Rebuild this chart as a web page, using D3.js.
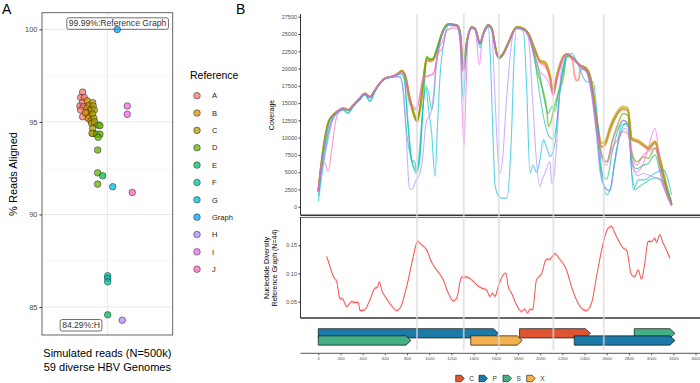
<!DOCTYPE html>
<html>
<head>
<meta charset="utf-8">
<title></title>
<script src="https://d3js.org/d3.v7.min.js"></script>
<style>
  body { margin: 0; background: #fff; }
  svg text { font-family: "Liberation Sans", Arial, sans-serif; }
</style>
</head>
<body>
<div id="chart"></div>
<script>
// ---- panel A data ----
const references = ["A", "B", "C", "D", "E", "F", "G", "Graph", "H", "I", "J"];
const refColors = ["#F8766D", "#DB8E00", "#AEA200", "#64B200", "#00BD5C", "#00C1A7", "#00BADE", "#00A6FF", "#B385FF", "#EF67EB", "#FF63B6"];

// reference of each simulated genome, its jitter (in band units) and % reads aligned
const pointRef = ["A","A","A","A","A","A","A","A",
  "B","B","B","B","B","B","B","B","B",
  "C","C","C","C","C","C","C","C","C","C","C",
  "D","D","D","D","D","D","D","D",
  "E","E","F","F","F","G","Graph","H","I","I","J"];
const pointJitter = [-0.227,-0.245,-0.212,-0.230,-0.252,-0.221,-0.245,-0.227,
  -0.185,-0.167,-0.185,-0.160,-0.185,-0.167,-0.176,-0.200,-0.150,
  -0.135,-0.130,-0.144,-0.120,-0.135,-0.123,-0.144,-0.135,-0.130,-0.141,-0.118,
  -0.084,-0.068,-0.098,-0.068,-0.084,-0.089,-0.089,-0.089,
  -0.043,0.003,0.003,0.003,0.003,0.049,0.091,0.137,0.183,0.183,0.229];
const pointValue = [96.61,96.32,96.32,96.04,95.86,95.82,95.64,95.28,
  96.14,95.91,95.73,95.64,95.46,95.32,95.19,95.50,95.05,
  96.04,95.86,95.64,95.64,95.42,95.19,94.92,94.65,94.38,94.38,95.00,
  94.83,94.80,94.34,94.34,94.17,93.48,92.25,91.64,
  92.09,84.58,86.69,86.55,86.36,91.50,99.99,84.29,95.86,95.41,91.19];
const yTicksA = [85, 90, 95, 100];
const yMinorA = [87.5, 92.5, 97.5];

// ---- panel B coverage data (position, coverage) per genotype ----
const covA = [[0,2200],[45,8100],[90,12000],[135,13300],[180,13900],[225,14250],[270,14000],[315,14700],[370,15600],[421,16400],[466,15900],[511,16900],[556,17900],[601,18600],[676,18900],[721,19300],[752,19600],[781,19000],[826,15400],[871,12900],[890,12300],[917,14000],[946,17800],[977,21200],[1007,21000],[1037,21300],[1067,22600],[1127,25500],[1172,26400],[1248,26300],[1277,25300],[1307,19800],[1337,23600],[1383,26000],[1413,25800],[1458,23600],[1488,25100],[1532,26300],[1563,25800],[1608,22100],[1630,21500],[1668,22100],[1713,23700],[1788,26000],[1848,25800],[1893,25100],[1953,22700],[1998,21000],[2043,20600],[2088,18600],[2118,16500],[2149,18600],[2194,21200],[2239,22100],[2290,21300],[2310,19000],[2325,18300],[2345,18300],[2362,19900],[2419,19900],[2464,17800],[2509,12500],[2554,8700],[2584,9000],[2629,11000],[2674,12800],[2749,14100],[2790,13900],[2825,9800],[2885,9300],[2930,8800],[2975,8300],[3035,9200],[3080,6600],[3140,2700],[3185,200]];
const covB = [[0,2200],[45,8200],[90,12100],[135,13300],[180,13900],[225,14250],[270,14000],[315,14700],[370,15600],[421,16400],[466,15900],[511,16900],[556,17900],[601,18600],[676,18900],[721,19300],[752,19700],[781,19100],[826,15500],[871,13000],[890,12300],[917,14000],[946,17900],[977,21300],[1007,21100],[1037,21300],[1067,22700],[1127,25600],[1172,26450],[1248,26300],[1277,25300],[1307,20000],[1337,23700],[1383,26000],[1413,25800],[1458,23700],[1488,25100],[1532,26300],[1563,25800],[1608,22200],[1630,21600],[1668,22200],[1713,23700],[1788,26000],[1848,25800],[1893,25100],[1953,22700],[1998,21000],[2043,20800],[2088,18800],[2118,16300],[2149,18800],[2194,21200],[2239,22100],[2299,21500],[2359,20500],[2419,20000],[2464,17900],[2509,12600],[2554,8600],[2584,8900],[2629,11100],[2674,12800],[2749,14200],[2790,14000],[2825,9700],[2885,9400],[2930,8900],[2975,8400],[3035,9400],[3080,6800],[3140,2900],[3185,300]];
const covC = [[0,2400],[45,8600],[90,12300],[135,13300],[180,13900],[225,14250],[270,14000],[315,14700],[370,15600],[421,16400],[466,15900],[511,16900],[556,17900],[601,18600],[676,18900],[721,19300],[752,19700],[781,19200],[826,15700],[871,13200],[890,12600],[917,14300],[946,18200],[977,21600],[1007,21300],[1037,21400],[1067,22700],[1127,25600],[1172,26450],[1248,26300],[1277,25300],[1307,20200],[1337,23700],[1383,26000],[1413,25800],[1458,23800],[1488,25100],[1532,26300],[1563,25800],[1608,22300],[1630,21700],[1668,22300],[1713,23800],[1788,26000],[1848,25800],[1893,25100],[1953,22800],[1998,21200],[2043,21000],[2088,19200],[2118,16800],[2149,19000],[2194,21300],[2239,22100],[2299,21500],[2359,20500],[2419,20000],[2464,18000],[2509,12800],[2554,9200],[2584,9400],[2629,11600],[2674,13200],[2749,14500],[2790,14300],[2825,10000],[2885,9600],[2930,9100],[2975,8600],[3035,9500],[3080,7000],[3140,3000],[3185,300]];
const covD = [[0,2300],[45,8400],[90,12200],[135,13300],[180,13900],[225,14250],[270,14000],[315,14700],[370,15600],[421,16400],[466,15900],[511,16900],[556,17900],[601,18600],[676,18900],[721,19300],[752,19600],[781,19000],[826,15300],[871,12800],[890,12400],[917,14500],[946,18500],[977,21800],[1007,21400],[1037,21500],[1067,22700],[1127,25600],[1172,26400],[1248,26300],[1277,25300],[1307,20000],[1337,23700],[1383,26000],[1413,25800],[1458,23700],[1488,25100],[1532,26300],[1563,25800],[1608,22200],[1630,21600],[1668,22200],[1713,23700],[1788,26000],[1848,25800],[1893,25000],[1940,22500],[1968,20000],[2013,17500],[2059,14000],[2073,11600],[2100,12500],[2118,13800],[2163,16400],[2208,18600],[2239,21800],[2299,21400],[2359,20400],[2419,19800],[2464,17500],[2509,12000],[2554,7500],[2600,6500],[2650,9500],[2700,12000],[2749,13500],[2790,13200],[2825,8000],[2870,6500],[2930,7200],[2975,7000],[3035,8500],[3080,6000],[3140,2500],[3185,300]];
const covE = [[0,2200],[45,8000],[90,11800],[135,13200],[180,13900],[225,14200],[270,13900],[315,14600],[370,15500],[421,16300],[466,15700],[511,16800],[556,17800],[601,18500],[676,18800],[721,19200],[752,19400],[781,18300],[800,13500],[842,6800],[871,6400],[887,5300],[917,8200],[946,15000],[977,21500],[1007,21300],[1037,21400],[1067,22600],[1127,25500],[1172,26400],[1248,26200],[1277,25200],[1307,19800],[1337,23600],[1383,25900],[1413,25700],[1458,23600],[1488,25000],[1532,26200],[1563,25700],[1608,22100],[1630,21500],[1668,22100],[1713,23600],[1788,25900],[1848,25700],[1893,25000],[1953,22000],[1998,19000],[2043,15000],[2073,13500],[2104,14500],[2134,13800],[2163,16500],[2208,19500],[2239,22000],[2299,21400],[2359,20400],[2419,19700],[2464,17000],[2509,11000],[2554,5000],[2600,4000],[2650,8000],[2700,11000],[2749,12500],[2790,12000],[2825,6500],[2870,5500],[2930,6000],[2975,6300],[3035,7500],[3080,5000],[3140,1800],[3185,200]];
const covF = [[0,1500],[45,7000],[90,11000],[135,12900],[180,13700],[225,14000],[265,13600],[315,14500],[370,15400],[421,16200],[466,15300],[511,16700],[556,17800],[601,18500],[676,18800],[721,19100],[752,19200],[781,17500],[810,12000],[842,6800],[871,5500],[890,5000],[917,7000],[946,15000],[971,17500],[1000,16000],[1022,14000],[1040,15500],[1067,21500],[1127,25300],[1172,26300],[1248,26200],[1277,25100],[1307,19500],[1337,23500],[1383,25800],[1413,25600],[1458,23500],[1488,24900],[1532,26100],[1563,25600],[1608,22000],[1630,21400],[1668,22000],[1713,23500],[1788,25800],[1848,25600],[1893,24800],[1953,21000],[1998,16000],[2043,12000],[2088,10000],[2118,9800],[2149,12000],[2194,19000],[2239,22000],[2299,21300],[2359,20300],[2419,19500],[2464,16500],[2509,11000],[2554,4000],[2599,2500],[2629,2400],[2670,6500],[2720,10500],[2764,12000],[2795,11500],[2825,5000],[2860,2500],[2900,3000],[2950,3500],[3000,4000],[3050,4200],[3110,3500],[3185,800]];
const covG = [[0,750],[45,6000],[90,10500],[135,12800],[225,14000],[265,13500],[315,14500],[421,16200],[466,15200],[511,16700],[601,18500],[676,18800],[736,18800],[765,17000],[797,10640],[842,6540],[881,4860],[900,6000],[930,12000],[971,17150],[992,14260],[1022,10640],[1052,4370],[1075,12000],[1097,18830],[1142,24600],[1172,26300],[1248,26200],[1277,24000],[1307,15460],[1337,23000],[1383,25800],[1413,25600],[1458,23000],[1488,24800],[1532,26000],[1550,22000],[1575,10000],[1593,3170],[1625,1500],[1653,1240],[1698,1240],[1728,5810],[1745,12000],[1758,18830],[1788,25800],[1848,25500],[1878,17380],[1908,4860],[1935,6000],[1968,5000],[2000,7000],[2028,9670],[2060,8500],[2088,7260],[2134,9200],[2165,15000],[2193,18830],[2254,21960],[2284,22210],[2330,21000],[2419,18100],[2479,18100],[2509,14010],[2554,5340],[2599,1720],[2629,2440],[2689,8230],[2734,11840],[2794,12090],[2839,2440],[2884,3890],[2945,3890],[3000,4500],[3050,5000],[3110,5340],[3185,1720]];
const covH = [[0,2500],[45,6500],[90,9800],[135,12800],[225,14200],[270,14000],[315,14700],[421,16400],[466,15900],[511,16900],[601,18600],[676,18900],[736,18800],[765,16500],[797,9000],[815,3500],[826,2500],[850,2600],[880,3800],[917,4860],[940,7000],[970,12000],[1022,14010],[1060,20000],[1097,23500],[1127,25500],[1172,26400],[1248,26300],[1277,25300],[1307,20000],[1337,23700],[1383,26000],[1413,25800],[1458,23700],[1488,25100],[1532,26300],[1563,25500],[1595,15000],[1623,6300],[1638,4860],[1668,8230],[1690,14000],[1713,18830],[1750,24500],[1788,25900],[1848,25700],[1893,24500],[1930,16000],[1960,8000],[1998,2920],[2020,4000],[2043,4860],[2088,6540],[2104,3410],[2125,4500],[2160,12000],[2194,20500],[2239,22100],[2299,21500],[2359,20500],[2419,19500],[2464,16000],[2509,10000],[2540,5000],[2569,3410],[2629,2200],[2665,5500],[2704,9200],[2764,11370],[2795,10640],[2839,5340],[2884,4500],[2930,4800],[2975,4600],[3035,4200],[3080,3890],[3140,1720],[3185,680]];
const covI = [[0,2300],[45,8000],[90,11800],[135,13200],[225,14200],[270,14000],[315,14700],[421,16400],[466,15900],[511,16900],[601,18600],[676,18900],[721,19300],[752,19500],[781,18800],[820,15000],[857,14260],[887,14000],[917,16000],[946,18500],[1007,19070],[1040,19500],[1082,22690],[1120,24000],[1157,25580],[1248,25800],[1277,24500],[1295,15000],[1313,8700],[1330,16000],[1350,24500],[1383,25800],[1413,25600],[1452,20520],[1480,24500],[1532,26200],[1563,25600],[1608,22000],[1638,21500],[1668,22000],[1713,23600],[1788,25900],[1848,25700],[1893,24800],[1953,21500],[1968,21000],[2000,19500],[2043,18900],[2088,17500],[2118,16000],[2149,18000],[2194,21000],[2239,22000],[2299,21300],[2359,20300],[2419,19500],[2464,16500],[2509,11000],[2554,7000],[2600,6000],[2650,9500],[2700,11500],[2749,12500],[2790,12000],[2825,7000],[2870,5000],[2930,6300],[2975,8500],[3035,11370],[3060,9000],[3080,5500],[3140,1700],[3185,100]];
const covJ = [[0,2300],[30,6500],[60,6300],[90,5090],[120,8230],[166,13040],[225,14200],[270,14000],[315,14700],[370,15600],[421,16400],[466,15900],[511,16900],[556,17900],[601,18600],[676,18900],[721,19300],[752,19600],[781,19000],[826,15800],[857,14500],[887,14300],[917,16500],[946,18800],[1007,19000],[1040,19200],[1082,22300],[1120,23000],[1157,25500],[1248,26100],[1277,25000],[1307,19500],[1337,23500],[1383,25900],[1413,25700],[1458,23600],[1488,25000],[1532,26200],[1563,25700],[1608,22100],[1630,21500],[1668,22100],[1713,23600],[1788,25900],[1848,25700],[1893,25000],[1953,22500],[1998,20800],[2043,20300],[2088,18500],[2118,16200],[2149,18500],[2194,21000],[2239,22000],[2299,21400],[2359,20400],[2419,19800],[2464,17500],[2509,12000],[2554,7500],[2600,6500],[2650,8500],[2700,9800],[2749,10870],[2790,10500],[2825,7500],[2870,6000],[2930,7500],[2975,8000],[3035,8500],[3080,6000],[3140,2000],[3185,200]];
const covSeries = [covA, covB, covC, covD, covE, covF, covG, covH, covI, covJ];
const covGenos = ["A", "B", "C", "D", "E", "F", "G", "H", "I", "J"];
const covTicks = [0, 2500, 5000, 7500, 10000, 12500, 15000, 17500, 20000, 22500, 25000, 27500];

// nucleotide diversity along the genome
const divPos = [76,106,136,166,196,217,256,301,331,361,376,412,466,511,532,550,571,616,661,706,745,781,811,856,895,931,976,1021,1066,1126,1172,1217,1247,1292,1337,1382,1427,1472,1517,1547,1571,1592,1622,1667,1691,1712,1742,1787,1832,1862,1886,1907,1931,1967,2012,2057,2087,2132,2177,2237,2282,2327,2372,2417,2463,2508,2568,2613,2643,2673,2703,2748,2778,2823,2853,2883,2913,2943,2973,3003,3033,3048,3078,3108,3138,3168];
const divVal = [0.130,0.112,0.0945,0.0857,0.055,0.055,0.0413,0.050,0.0484,0.0484,0.0342,0.0348,0.0532,0.0739,0.0751,0.0851,0.0709,0.055,0.0425,0.0342,0.0413,0.065,0.0887,0.130,0.1566,0.1507,0.142,0.120,0.1064,0.0887,0.065,0.0514,0.056,0.0934,0.0934,0.0887,0.0798,0.0739,0.0709,0.059,0.065,0.059,0.0768,0.0975,0.1005,0.0768,0.065,0.0443,0.0325,0.0367,0.0296,0.0367,0.0355,0.0887,0.0993,0.1253,0.125,0.1348,0.125,0.1064,0.0768,0.0532,0.0384,0.0342,0.0473,0.0945,0.1537,0.1803,0.1832,0.1714,0.1596,0.1448,0.1418,0.0975,0.0945,0.1064,0.0899,0.1182,0.1566,0.1566,0.1626,0.155,0.1684,0.1537,0.1418,0.127];
const divBand = 0.003;
const divTicks = [0.05, 0.10, 0.15];

// genes (HBV ORFs)
const geneName = ["P", "S", "X", "C", "P", "S"];
const geneStart = [0, 0, 1374, 1814, 2307, 2848];
const geneEnd = [1623, 835, 1838, 2452, 3215, 3215];
const geneRow = [0, 1, 1, 0, 1, 0];
const geneKeys = ["C", "P", "S", "X"];
const geneColors = { C: "#E05431", P: "#1B7AA8", S: "#45AF85", X: "#F5B04E" };
const markers = [890, 1311, 1627, 2119, 2573];
const posTicks = d3.range(0, 3401, 200);

// ---- drawing ----
const W = 700, H = 383;
const svg = d3.select("#chart").append("svg").attr("width", W).attr("height", H);
const refColor = d3.scaleOrdinal().domain(references).range(refColors);

// panel labels
svg.append("text").attr("x", 2).attr("y", 14).style("font-size", "14px").text("A");
svg.append("text").attr("x", 236).attr("y", 14).style("font-size", "14px").text("B");

// ===== Panel A =====
const ax0 = 42, ax1 = 172.7, ay0 = 12.7, ay1 = 335;
const xA = d3.scaleLinear().domain([-0.6, 0.6]).range([ax0, ax1]);
const yA = d3.scaleLinear().domain([83.49, 100.9]).range([ay1, ay0]);

const gA = svg.append("g");
gA.selectAll("line.minor").data(yMinorA).enter().append("line")
  .attr("x1", ax0).attr("x2", ax1).attr("y1", d => yA(d)).attr("y2", d => yA(d))
  .attr("stroke", "#f2f2f2").attr("stroke-width", 0.6);
gA.selectAll("line.major").data(yTicksA).enter().append("line")
  .attr("x1", ax0).attr("x2", ax1).attr("y1", d => yA(d)).attr("y2", d => yA(d))
  .attr("stroke", "#e6e6e6").attr("stroke-width", 0.9);
gA.append("line").attr("x1", xA(0)).attr("x2", xA(0)).attr("y1", ay0).attr("y2", ay1)
  .attr("stroke", "#e6e6e6").attr("stroke-width", 0.9);

const axA = gA.append("g").attr("transform", `translate(${ax0},0)`)
  .call(d3.axisLeft(yA).tickValues(yTicksA).tickSize(2.5).tickPadding(2));
axA.select(".domain").remove();
axA.selectAll("line").attr("stroke", "#333");
axA.selectAll("text").style("font-size", "7.5px").attr("fill", "#4d4d4d").style("font-family", "Liberation Sans, Arial");

// repel-style labels (drawn under the points)
function labelBox(cx, cy, txt) {
  const lg = gA.append("g");
  const bgRect = lg.append("rect");
  const t = lg.append("text").attr("x", cx).attr("y", cy + 3).attr("text-anchor", "middle")
    .style("font-size", "8.6px").attr("fill", "#333").text(txt);
  const bb = t.node().getBBox();
  bgRect.attr("x", bb.x - 2).attr("y", bb.y - 0.5).attr("width", bb.width + 4).attr("height", bb.height + 1.5)
    .attr("rx", 2).attr("fill", "#fff").attr("stroke", "#333").attr("stroke-width", 0.7);
}
labelBox(117.5, 23.3, "99.99%:Reference Graph");
labelBox(81, 325, "84.29%:H");

gA.selectAll("circle.pt").data(pointValue).enter().append("circle")
  .attr("cx", (d, i) => xA(pointJitter[i]))
  .attr("cy", d => yA(d))
  .attr("r", 3.3)
  .attr("fill", (d, i) => refColor(pointRef[i]))
  .attr("fill-opacity", 0.75)
  .attr("stroke", "#222").attr("stroke-width", 0.5);

gA.append("rect").attr("x", ax0).attr("y", ay0).attr("width", ax1 - ax0).attr("height", ay1 - ay0)
  .attr("fill", "none").attr("stroke", "#555").attr("stroke-width", 0.9);

gA.append("text").attr("transform", "translate(17,174) rotate(-90)").attr("text-anchor", "middle")
  .style("font-size", "11px").text("% Reads Aligned");
gA.append("text").attr("x", xA(0)).attr("y", 357).attr("text-anchor", "middle")
  .style("font-size", "11px").text("Simulated reads (N=500k)");
gA.append("text").attr("x", xA(0)).attr("y", 371).attr("text-anchor", "middle")
  .style("font-size", "11px").text("59 diverse HBV Genomes");

// legend
const leg = svg.append("g");
leg.append("text").attr("x", 190).attr("y", 79).style("font-size", "10.5px").text("Reference");
references.forEach((r, i) => {
  const yy = 95.7 + i * 17.35;
  leg.append("circle").attr("cx", 197).attr("cy", yy).attr("r", 3.3)
    .attr("fill", refColors[i]).attr("fill-opacity", 0.75).attr("stroke", "#222").attr("stroke-width", 0.5);
  leg.append("text").attr("x", 212).attr("y", yy + 2.7).style("font-size", "7.5px").attr("fill", "#222").text(r);
});

// ===== Panel B =====
const xB = d3.scaleLinear().domain([0, 3400]).range([318.3, 695.5]);
const yCov = d3.scaleLinear().domain([-1200, 27900]).range([215, 14]);
const yDiv = d3.scaleLinear().domain([0.021, 0.2]).range([318, 217]);
const bLeft = 300.5;

const gB = svg.append("g");

// coverage lines
const covLine = d3.line().x(d => xB(d[0])).y(d => yCov(d[1])).curve(d3.curveMonotoneX);
covSeries.forEach((s, i) => {
  const g = covGenos[i];
  gB.append("path").datum(s).attr("d", covLine)
    .attr("fill", "none").attr("stroke", refColor(g))
    .attr("stroke-width", ["A", "B", "C"].includes(g) ? 1.9 : (g === "D" ? 1.5 : 1.1))
    .attr("stroke-opacity", 0.65).attr("stroke-linejoin", "round");
});

// coverage axis
const axCov = gB.append("g").attr("transform", `translate(${bLeft},0)`)
  .call(d3.axisLeft(yCov).tickValues(covTicks).tickFormat(d3.format("d")).tickSize(2).tickPadding(1.5));
axCov.select(".domain").attr("stroke", "#333").attr("stroke-width", 1).attr("d", "M0,14V215");
axCov.selectAll(".tick line").attr("stroke", "#333");
axCov.selectAll("text").style("font-size", "5.5px").attr("fill", "#4d4d4d").style("font-family", "Liberation Sans, Arial");
gB.append("line").attr("x1", bLeft).attr("x2", 700).attr("y1", 215.3).attr("y2", 215.3)
  .attr("stroke", "#333").attr("stroke-width", 1.4);

// diversity ribbon + line
const divData = divPos.map((p, i) => [p, divVal[i]]);
gB.append("path").datum(divData)
  .attr("d", d3.area().x(d => xB(d[0])).y0(d => yDiv(d[1] - divBand)).y1(d => yDiv(d[1] + divBand)).curve(d3.curveMonotoneX))
  .attr("fill", "#F8766D").attr("fill-opacity", 0.3);
gB.append("path").datum(divData)
  .attr("d", d3.line().x(d => xB(d[0])).y(d => yDiv(d[1])).curve(d3.curveMonotoneX))
  .attr("fill", "none").attr("stroke", "#EE2C2C").attr("stroke-width", 0.8);

const axDiv = gB.append("g").attr("transform", `translate(${bLeft},0)`)
  .call(d3.axisLeft(yDiv).tickValues(divTicks).tickFormat(d3.format(".2f")).tickSize(2).tickPadding(1.5));
axDiv.select(".domain").attr("stroke", "#333").attr("stroke-width", 1).attr("d", "M0,217V318");
axDiv.selectAll(".tick line").attr("stroke", "#333");
axDiv.selectAll("text").style("font-size", "5.5px").attr("fill", "#4d4d4d").style("font-family", "Liberation Sans, Arial");
gB.append("line").attr("x1", bLeft).attr("x2", 700).attr("y1", 217.4).attr("y2", 217.4)
  .attr("stroke", "#333").attr("stroke-width", 0.8);
gB.append("line").attr("x1", bLeft).attr("x2", 700).attr("y1", 318).attr("y2", 318)
  .attr("stroke", "#333").attr("stroke-width", 1.4);

// axis titles
gB.append("text").attr("transform", "translate(274,115) rotate(-90)").attr("text-anchor", "middle")
  .style("font-size", "7px").text("Coverage");
gB.append("text").attr("transform", "translate(269,268) rotate(-90)").attr("text-anchor", "middle")
  .style("font-size", "7px").text("Nucleotide Diversity");
gB.append("text").attr("transform", "translate(276.5,268) rotate(-90)").attr("text-anchor", "middle")
  .style("font-size", "7px").text("Reference Graph (N=44)");

// gene arrows
const rowY = [333.3, 340.5], arrowH = 9.3, headL = 5;
function arrowPts(x0, x1, yc, h, hl) {
  const t = yc - h / 2, b = yc + h / 2;
  return [[x0, t], [x1 - hl, t], [x1, yc], [x1 - hl, b], [x0, b]].map(p => p.join(",")).join(" ");
}
[0, 1].forEach(row => {
  geneName.forEach((g, i) => {
    if (geneRow[i] !== row) return;
    gB.append("polygon")
      .attr("points", arrowPts(xB(geneStart[i]), xB(geneEnd[i]), rowY[row], arrowH, headL))
      .attr("fill", geneColors[g]).attr("stroke", "#111").attr("stroke-width", 0.7);
  });
});

// marker lines
gB.selectAll("line.marker").data(markers).enter().append("line")
  .attr("x1", d => xB(d)).attr("x2", d => xB(d)).attr("y1", 14).attr("y2", 350)
  .attr("stroke", "#d9d9d9").attr("stroke-opacity", 0.75).attr("stroke-width", 1.8);

// position axis
const axPos = gB.append("g").attr("transform", "translate(0,353.3)")
  .call(d3.axisBottom(xB).tickValues(posTicks).tickFormat(d3.format("d")).tickSize(2).tickPadding(1.5));
axPos.select(".domain").attr("stroke", "#555").attr("d", `M${bLeft},0H700`);
axPos.selectAll(".tick line").attr("stroke", "#555");
axPos.selectAll("text").style("font-size", "4.3px").attr("fill", "#4d4d4d").style("font-family", "Liberation Sans, Arial");

// gene legend
const kx = [455.7, 479, 503, 526.7];
geneKeys.forEach((g, i) => {
  gB.append("polygon").attr("points", arrowPts(kx[i], kx[i] + 8.5, 378.5, 6.5, 3))
    .attr("fill", geneColors[g]).attr("stroke", "#111").attr("stroke-width", 0.6);
  gB.append("text").attr("x", kx[i] + 13.5).attr("y", 380.7).style("font-size", "6.5px").attr("fill", "#333").text(g);
});
</script>
</body>
</html>
